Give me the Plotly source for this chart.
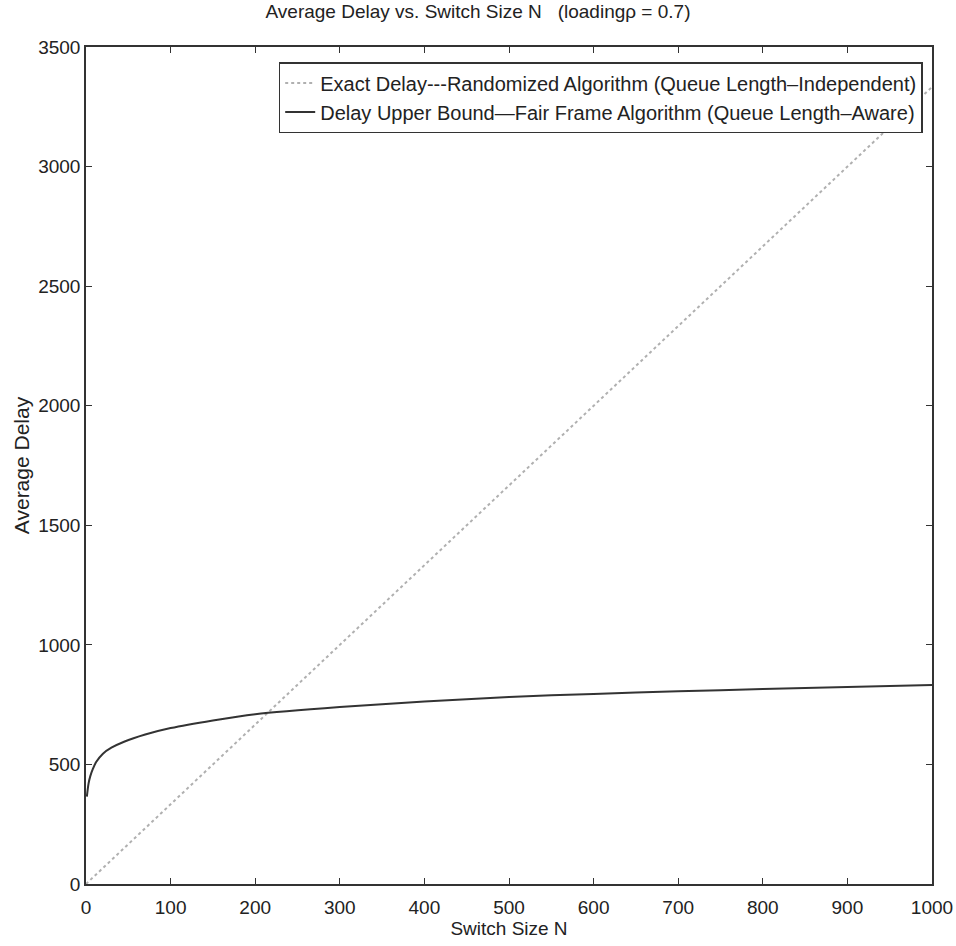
import plotly.graph_objects as go

# Exact delay (randomized algorithm) - linear in N
exact_n = [0, 100, 200, 300, 400, 500, 600, 700, 800, 900, 1000]
exact_delay = [0, 333, 667, 1000, 1333, 1667, 2000, 2333, 2667, 3000, 3333]

# Delay upper bound (fair frame algorithm)
bound_n = [1, 3, 5, 8, 12, 20, 30, 45, 70, 100, 150, 200, 300, 400, 500, 600, 700, 800, 900, 1000]
bound_delay = [365, 420, 450, 480, 510, 545, 570, 595, 625, 652, 684, 710, 740, 763, 782, 795, 806, 815, 824, 832]

x_ticks = [0, 100, 200, 300, 400, 500, 600, 700, 800, 900, 1000]
y_ticks = [0, 500, 1000, 1500, 2000, 2500, 3000, 3500]

font_family = "Liberation Sans, Arial, sans-serif"
txt = "#222222"

fig = go.Figure()
fig.add_trace(go.Scatter(
    x=exact_n, y=exact_delay, mode="lines",
    name="Exact Delay---Randomized Algorithm (Queue Length\u2013Independent)",
    line=dict(color="#b0b0b0", width=2, dash="dot"),
))
fig.add_trace(go.Scatter(
    x=bound_n, y=bound_delay, mode="lines",
    name="Delay Upper Bound\u2014Fair Frame Algorithm (Queue Length\u2013Aware)",
    line=dict(color="#333333", width=2, shape="spline", smoothing=0.8),
))

axis_common = dict(
    showline=True, linecolor="#333333", linewidth=1.5, mirror="ticks",
    ticks="inside", ticklen=6, tickcolor="#333333", showgrid=False, zeroline=False,
    tickfont=dict(family=font_family, size=19, color=txt),
    ticklabeloverflow="allow", automargin=False,
)

fig.update_layout(
    width=956, height=946,
    margin=dict(l=86, r=24, t=47, b=62),
    paper_bgcolor="white", plot_bgcolor="white",
    title=dict(text="Average Delay vs. Switch Size N   (loading\u03c1 = 0.7)",
               x=0.5, xanchor="center", y=0.995, yanchor="top",
               pad=dict(t=0, b=0),
               font=dict(family=font_family, size=19, color=txt)),
    xaxis=dict(range=[0, 1000], tickvals=x_ticks, ticklabelstandoff=5,
               title=dict(text="Switch Size N", standoff=4,
                          font=dict(family=font_family, size=19, color=txt)),
               **axis_common),
    yaxis=dict(range=[0, 3500], tickvals=y_ticks,
               title=dict(text="Average Delay", standoff=3,
                          font=dict(family=font_family, size=21, color=txt)),
               **axis_common),
    legend=dict(x=0.989, y=0.982, xanchor="right", yanchor="top",
                bgcolor="white", bordercolor="#333333", borderwidth=1.5,
                font=dict(family=font_family, size=20, color=txt),
                tracegroupgap=0, itemwidth=30),
    showlegend=True,
)

fig.write_html(
    "out.html",
    config={"displayModeBar": False},
    post_script="document.body.style.margin='0';document.body.style.overflow='hidden';",
)
